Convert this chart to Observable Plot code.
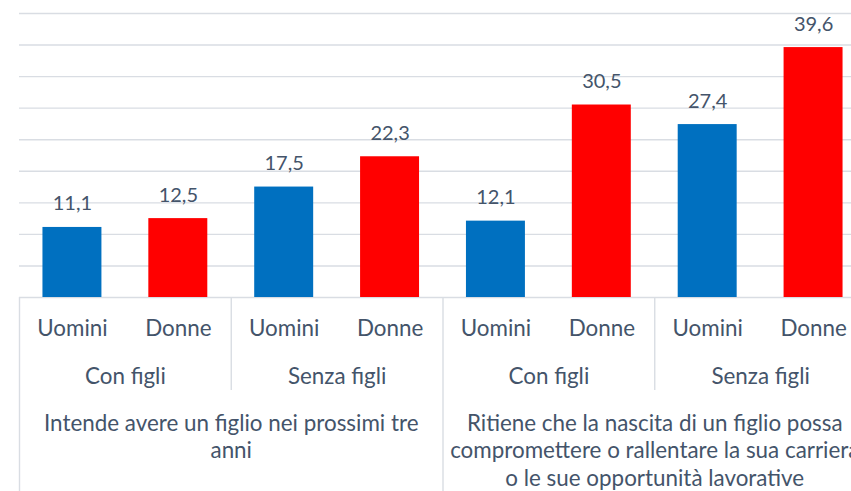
<!DOCTYPE html>
<html>
<head>
<meta charset="utf-8">
<script src="https://cdn.jsdelivr.net/npm/d3@7"></script>
<script src="https://cdn.jsdelivr.net/npm/@observablehq/plot@0.6"></script>
<style>
  html, body { margin: 0; padding: 0; background: #fff; overflow: hidden; }
  #chart svg { display: block; overflow: hidden; }
</style>
</head>
<body>
<div id="chart"></div>
<script>
// ---- data ----
const genders = ["Uomini", "Donne", "Uomini", "Donne", "Uomini", "Donne", "Uomini", "Donne"];
const values = [11.1, 12.5, 17.5, 22.3, 12.1, 30.5, 27.4, 39.6];
const subgroups = ["Con figli", "Senza figli", "Con figli", "Senza figli"];
const questions = [
  "Intende avere un figlio nei prossimi tre\nanni",
  "Ritiene che la nascita di un figlio possa\ncompromettere o rallentare la sua carriera\no le sue opportunità lavorative"
];
const yTicks = [5, 10, 15, 20, 25, 30, 35, 40, 45];
const colors = {Uomini: "#0070C0", Donne: "#FF0000"};

// ---- tables ----
const bars = values.map((v, i) => ({i, gender: genders[i], value: v, label: v.toFixed(1).replace(".", ",")}));
const subs = subgroups.map((s, k) => ({k, label: s}));
const qs = questions.map((q, k) => ({k, label: q}));

const textColor = "#44546A";
const gridColor = "#D9DDE3";
const font = "Lato, 'Open Sans', sans-serif";
const axisSize = 22.4;

const chart = Plot.plot({
  width: 851,
  height: 491,
  marginTop: 13,
  marginBottom: 194,
  marginLeft: 19,
  marginRight: -15,
  style: {fontFamily: font, fontSize: "20px", color: textColor, background: "white"},
  x: {domain: [0, 8], axis: null},
  y: {domain: [0, 45], axis: null},
  marks: [
    Plot.ruleY([0, ...yTicks], {stroke: gridColor, strokeWidth: 1.4}),
    Plot.rectY(bars, {
      x1: d => d.i + 0.2215,
      x2: d => d.i + 0.7785,
      y1: 0,
      y2: "value",
      fill: d => colors[d.gender]
    }),
    Plot.text(bars, {
      x: d => d.i + 0.5, y: "value", text: "label",
      lineAnchor: "bottom", dy: -17, fill: textColor, fontSize: 20
    }),
    // category dividers below the axis
    Plot.ruleX([0, 4, 8], {stroke: gridColor, strokeWidth: 1.4, insetTop: 284, insetBottom: -194}),
    Plot.ruleX([2, 6], {stroke: gridColor, strokeWidth: 1.4, insetTop: 284, insetBottom: -93}),
    // gender labels
    Plot.text(bars, {
      x: d => d.i + 0.5, frameAnchor: "bottom", text: "gender",
      lineAnchor: "bottom", dy: 38, fill: textColor, fontSize: axisSize
    }),
    // subgroup labels
    Plot.text(subs, {
      x: d => d.k * 2 + 1, frameAnchor: "bottom", text: "label",
      lineAnchor: "bottom", dy: 86, fill: textColor, fontSize: axisSize
    }),
    // question labels
    Plot.text(qs, {
      x: d => d.k * 4 + 2, frameAnchor: "bottom", text: "label",
      lineAnchor: "top", lineHeight: 1.24, dy: 113.3, fill: textColor, fontSize: axisSize
    })
  ]
});
document.getElementById("chart").append(chart);
</script>
</body>
</html>
